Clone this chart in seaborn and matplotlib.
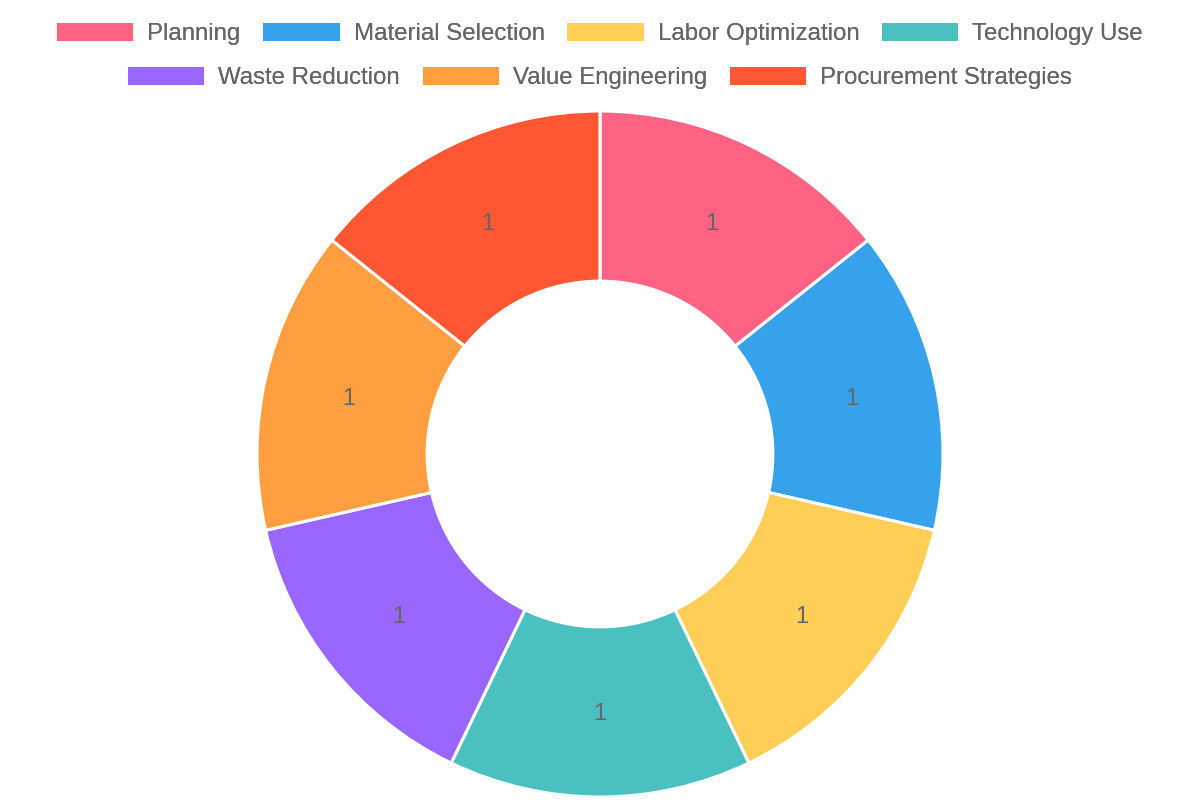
import matplotlib
matplotlib.use("Agg")
import matplotlib.pyplot as plt
from matplotlib.patches import Patch
import numpy as np
import seaborn as sns

# data
categories = [
    "Planning",
    "Material Selection",
    "Labor Optimization",
    "Technology Use",
    "Waste Reduction",
    "Value Engineering",
    "Procurement Strategies",
]
values = [1, 1, 1, 1, 1, 1, 1]
colors = ["#FF6384", "#36A2EB", "#FFCE56", "#4BC0C0", "#9966FF", "#FF9F40", "#FF5733"]

sns.set_theme(style="white")
plt.rcParams["font.family"] = ["Liberation Sans", "DejaVu Sans"]

fig = plt.figure(figsize=(12, 8), dpi=100)

# square axes holding the donut, centred at (600, 454) px, radius 343 px
r_px = 343
ax = fig.add_axes([(600 - r_px) / 1200, (800 - 454 - r_px) / 800, 2 * r_px / 1200, 2 * r_px / 800])

wedges, _ = ax.pie(
    values,
    colors=colors,
    startangle=90,
    counterclock=False,
    radius=1,
    wedgeprops=dict(width=0.496, edgecolor="white", linewidth=2.2),
)
ax.set_xlim(-1, 1)
ax.set_ylim(-1, 1)
ax.axis("off")

# value labels in the middle of each ring segment
for w, v in zip(wedges, values):
    ang = np.deg2rad((w.theta1 + w.theta2) / 2)
    ax.text(0.752 * np.cos(ang), 0.752 * np.sin(ang), str(v),
            ha="center", va="center_baseline", fontsize=17, color="#666666")

# legend in two centred rows, like the original
fs = 17.3
handles = [Patch(facecolor=c, edgecolor="none") for c in colors]
rows = [(0, 4, 1 - 34 / 800), (4, 7, 1 - 78 / 800)]
for start, end, y in rows:
    leg = fig.legend(
        handles[start:end],
        categories[start:end],
        loc="center",
        bbox_to_anchor=(0.5, y),
        ncol=end - start,
        frameon=False,
        fontsize=fs,
        handlelength=3.17,
        handleheight=0.83,
        handletextpad=0.58,
        columnspacing=0.95,
        borderpad=0,
        borderaxespad=0,
    )
    for t in leg.get_texts():
        t.set_color("#666666")
    fig.add_artist(leg)

fig.savefig("out.png", dpi=100)
